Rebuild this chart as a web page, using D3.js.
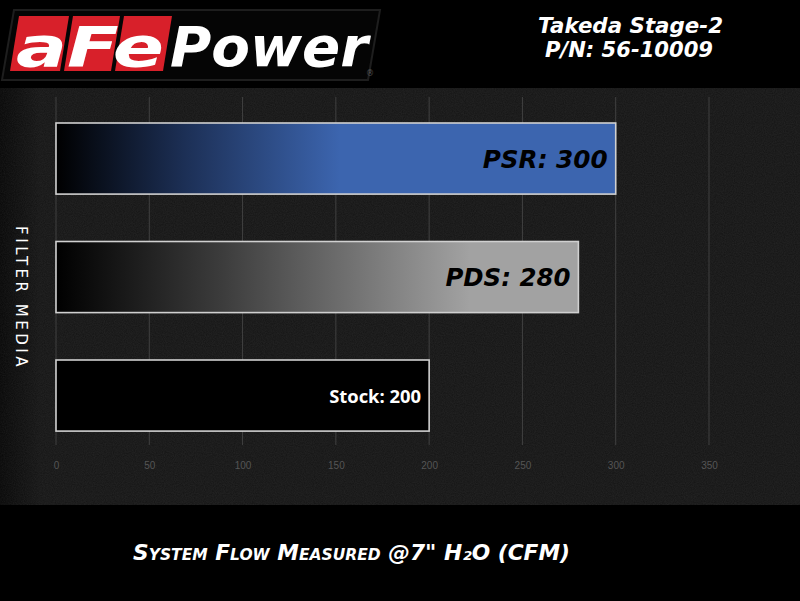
<!DOCTYPE html>
<html><head><meta charset="utf-8">
<script src="https://cdn.jsdelivr.net/npm/d3@7"></script>
<style>html,body{margin:0;padding:0;background:#000;}svg{display:block;}</style>
</head><body>
<script>
const categories = ["PSR", "PDS", "Stock"];
const values = [300, 280, 200];
const labels = ["PSR: 300", "PDS: 280", "Stock: 200"];
const ticks = [0, 50, 100, 150, 200, 250, 300, 350];
const titleLines = ["Takeda Stage-2", "P/N: 56-10009"];
const xTitle = "System Flow Measured @7\" H\u2082O (CFM)";
const yTitle = "FILTER MEDIA";

const W = 800, H = 601;
const svg = d3.select("body").append("svg").attr("width", W).attr("height", H);
const defs = svg.append("defs");

// noise texture for panel
const f = defs.append("filter").attr("id","noise").attr("x",0).attr("y",0).attr("width","100%").attr("height","100%");
f.append("feTurbulence").attr("type","fractalNoise").attr("baseFrequency",0.9).attr("numOctaves",2).attr("seed",3).attr("result","t");
f.append("feColorMatrix").attr("in","t").attr("type","matrix")
 .attr("values","0 0 0 0 0.5  0 0 0 0 0.5  0 0 0 0 0.5  0 0 0 0.1 0").attr("result","n");
f.append("feComposite").attr("in","n").attr("in2","SourceGraphic").attr("operator","in");

const gBlue = defs.append("linearGradient").attr("id","gBlue").attr("gradientUnits","userSpaceOnUse").attr("x1",56).attr("x2",340).attr("y1",0).attr("y2",0);
gBlue.append("stop").attr("offset",0).attr("stop-color","#000000");
gBlue.append("stop").attr("offset",0.45).attr("stop-color","#1c2f55");
gBlue.append("stop").attr("offset",1).attr("stop-color","#3c65af");
const gGrey = defs.append("linearGradient").attr("id","gGrey").attr("gradientUnits","userSpaceOnUse").attr("x1",56).attr("x2",470).attr("y1",0).attr("y2",0);
gGrey.append("stop").attr("offset",0).attr("stop-color","#000000");
gGrey.append("stop").attr("offset",0.4).attr("stop-color","#3c3c3c");
gGrey.append("stop").attr("offset",1).attr("stop-color","#a2a2a2");
const gEdge = defs.append("linearGradient").attr("id","gEdge").attr("x1",0).attr("x2",1);
gEdge.append("stop").attr("offset",0).attr("stop-color","#060606");
gEdge.append("stop").attr("offset",0.05).attr("stop-color","#141414");
gEdge.append("stop").attr("offset",1).attr("stop-color","#141414");

// backgrounds
svg.append("rect").attr("width",W).attr("height",H).attr("fill","#000");
svg.append("rect").attr("x",0).attr("y",88).attr("width",W).attr("height",417).attr("fill","url(#gEdge)");
svg.append("rect").attr("x",0).attr("y",88).attr("width",W).attr("height",417).attr("fill","#fff").attr("filter","url(#noise)");

// scales
const x = d3.scaleLinear().domain([0,350]).range([56,709]);
const y = d3.scaleBand().domain(categories).range([99.3,454.8]).paddingInner(0.4).paddingOuter(0.2);

// gridlines
svg.append("g").selectAll("line").data(ticks).join("line")
  .attr("x1",d=>x(d)).attr("x2",d=>x(d)).attr("y1",97).attr("y2",445)
  .attr("stroke","#4a4a4a").attr("stroke-width",0.8);

// tick labels via axis
const ax = svg.append("g").attr("transform","translate(0,460)")
  .call(d3.axisBottom(x).tickValues(ticks).tickSize(0).tickPadding(2));
ax.select(".domain").remove();
ax.selectAll("text").attr("fill","#555").attr("font-family","Liberation Sans Narrow, Liberation Sans, Arial, sans-serif").attr("font-size",10);

// bars
const fills = ["url(#gBlue)","url(#gGrey)","#000"];
svg.append("g").selectAll("rect").data(values).join("rect")
  .attr("x",x(0)).attr("y",(d,i)=>y(categories[i]))
  .attr("width",d=>x(d)-x(0)).attr("height",y.bandwidth())
  .attr("fill",(d,i)=>fills[i]).attr("stroke","#d0d0d0").attr("stroke-width",1.6);

// bar labels
svg.append("g").selectAll("text").data(values).join("text")
  .attr("x",d=>x(d)-8)
  .attr("y",(d,i)=>y(categories[i])+y.bandwidth()/2+ (i<2?9:7))
  .attr("text-anchor","end")
  .attr("font-family",(d,i)=>i<2?"DejaVu Sans, sans-serif":"Open Sans, Liberation Sans, sans-serif")
  .attr("font-weight","bold")
  .attr("font-style",(d,i)=>i<2?"italic":"normal")
  .attr("font-size",(d,i)=>i<2?25:17)
  .attr("fill",(d,i)=>i<2?"#000":"#fff")
  .attr("textLength",(d,i)=>i<2?125:92)
  .attr("lengthAdjust","spacingAndGlyphs")
  .text((d,i)=>labels[i]);

// y title
svg.append("text").attr("transform","translate(16,298) rotate(90)")
  .attr("text-anchor","middle").attr("fill","#fff")
  .attr("font-family","DejaVu Sans, sans-serif").attr("font-size",15)
  .attr("letter-spacing",3.5).text(yTitle);

// header title
svg.append("g").selectAll("text").data(titleLines).join("text")
  .attr("x",(d,i)=>i==0?538:545).attr("y",(d,i)=>i==0?33:57)
  .attr("textLength",(d,i)=>i==0?185:168).attr("lengthAdjust","spacingAndGlyphs")
  .attr("fill","#fff").attr("font-family","DejaVu Sans, sans-serif")
  .attr("font-weight","bold").attr("font-style","italic").attr("font-size",21)
  .text(d=>d);

// x title
svg.append("text").attr("x",133).attr("y",560)
  .attr("textLength",437).attr("lengthAdjust","spacingAndGlyphs")
  .attr("fill","#fff").attr("font-family","DejaVu Sans, sans-serif")
  .attr("font-weight","bold").attr("font-style","italic").attr("font-size",21)
  .style("font-variant","small-caps")
  .text(xTitle);

// logo
const logo = svg.append("g");
logo.append("path").attr("d","M14,10 L380,10 L368,80 L2,80 Z").attr("fill","#050505").attr("stroke","#1e1e1e").attr("stroke-width",2);
const boxes = [[10,60],[64,111],[115,163]];
logo.selectAll("path.box").data(boxes).join("path").attr("class","box")
  .attr("d",d=>`M${d[0]+9},16 L${d[1]+9},16 L${d[1]},71 L${d[0]},71 Z`).attr("fill","#d8202a");
logo.append("text").attr("x",16).attr("y",66).attr("textLength",148).attr("lengthAdjust","spacingAndGlyphs")
  .attr("fill","#fff").attr("font-family","DejaVu Sans, sans-serif").attr("font-weight","bold")
  .attr("font-style","italic").attr("font-size",56).text("aFe");
logo.append("text").attr("x",170).attr("y",66).attr("textLength",198).attr("lengthAdjust","spacingAndGlyphs")
  .attr("fill","#fff").attr("font-family","DejaVu Sans, sans-serif").attr("font-weight","bold")
  .attr("font-style","italic").attr("font-size",56).text("Power");
logo.append("text").attr("x",366).attr("y",76).attr("fill","#555").attr("font-size",8).attr("font-family","DejaVu Sans").text("\u00ae");
</script>
</body></html>
